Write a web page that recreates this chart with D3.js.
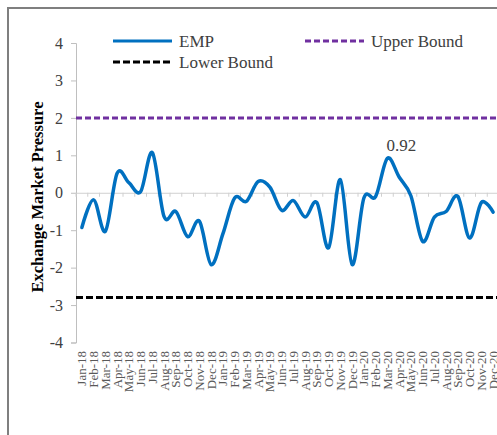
<!DOCTYPE html>
<html><head><meta charset="utf-8">
<script src="https://cdn.jsdelivr.net/npm/d3@7"></script>
<style>html,body{margin:0;padding:0;background:#fff;overflow:hidden}</style>
</head><body><svg id="c" width="497" height="435"></svg>
<script>
const months = ["Jan-18","Feb-18","Mar-18","Apr-18","May-18","Jun-18","Jul-18","Aug-18","Sep-18","Oct-18","Nov-18","Dec-18",
"Jan-19","Feb-19","Mar-19","Apr-19","May-19","Jun-19","Jul-19","Aug-19","Sep-19","Oct-19","Nov-19","Dec-19",
"Jan-20","Feb-20","Mar-20","Apr-20","May-20","Jun-20","Jul-20","Aug-20","Sep-20","Oct-20","Nov-20","Dec-20"];
const emp = [-0.93,-0.19,-1.03,0.52,0.27,0.03,1.07,-0.64,-0.5,-1.17,-0.76,-1.92,
-1.1,-0.14,-0.23,0.3,0.15,-0.47,-0.21,-0.65,-0.26,-1.47,0.35,-1.92,
-0.14,-0.1,0.92,0.42,-0.08,-1.3,-0.65,-0.5,-0.1,-1.21,-0.26,-0.52];
const upperBound = 2.0;
const lowerBound = -2.8;
const yTicks = [-4,-3,-2,-1,0,1,2,3,4];
const peakLabel = {month:"Mar-20", text:"0.92"};

const svg = d3.select("#c");
const serif = "'Liberation Serif','Times New Roman',serif";
// outer frame
svg.append("rect").attr("x",8).attr("y",8).attr("width",520).attr("height",440)
  .attr("fill","#fff").attr("stroke","#7f7f7f").attr("stroke-width",2);

const x = d3.scaleBand().domain(months).range([76, 76+36*11.75]);
const cx = m => x(m) + x.bandwidth()/2;
const y = d3.scaleLinear().domain([-4,4]).range([342.5,43]);

// y axis
const yAxis = d3.axisLeft(y).tickValues(yTicks).tickSize(5).tickPadding(8).tickFormat(d3.format("d"));
const ya = svg.append("g").attr("transform","translate(76,0)").call(yAxis);
ya.select(".domain").attr("stroke","#bfbfbf");
ya.selectAll(".tick line").attr("stroke","#bfbfbf");
ya.selectAll(".tick text").attr("font-family",serif).attr("font-size",16).attr("fill","#404040")
  .text(d => d < 0 ? "-" + Math.abs(d) : d);

// horizontal category axis at 0
const xAxis = d3.axisBottom(x).tickSize(0).tickFormat("");
const xa = svg.append("g").attr("transform",`translate(0,${y(0)})`).call(xAxis);
xa.select(".domain").attr("stroke","#d0d0d0").attr("stroke-width",1);
svg.append("g").selectAll("line").data(months).join("line")
  .attr("x1",d=>x(d)).attr("x2",d=>x(d)).attr("y1",y(0)).attr("y2",y(0)+4)
  .attr("stroke","#d0d0d0");

// category labels
svg.append("g").selectAll("text").data(months).join("text")
  .attr("transform",d=>`translate(${cx(d)},351) rotate(-90)`)
  .attr("text-anchor","end").attr("dy","0.35em")
  .attr("font-family",serif).attr("font-size",13).attr("fill","#595959")
  .text(d=>d);

// bounds
svg.append("line").attr("x1",76).attr("x2",520).attr("y1",y(upperBound)).attr("y2",y(upperBound))
  .attr("stroke","#7030a0").attr("stroke-width",3).attr("stroke-dasharray","6,3");
svg.append("line").attr("x1",76).attr("x2",520).attr("y1",y(lowerBound)).attr("y2",y(lowerBound))
  .attr("stroke","#000").attr("stroke-width",3).attr("stroke-dasharray","7,3");

// EMP line
const line = d3.line().x((d,i)=>cx(months[i])).y(d=>y(d)).curve(d3.curveCatmullRom.alpha(0));
svg.append("path").datum(emp).attr("d",line).attr("fill","none")
  .attr("stroke","#0070c0").attr("stroke-width",3.5).attr("stroke-linecap","round");

// peak label
const pi = months.indexOf(peakLabel.month);
svg.append("text").attr("x",cx(peakLabel.month)+14).attr("y",y(emp[pi])-7)
  .attr("text-anchor","middle").attr("font-family",serif).attr("font-size",17).attr("fill","#404040")
  .text(peakLabel.text);

// y title
svg.append("text").attr("transform","translate(37,197) rotate(-90)")
  .attr("text-anchor","middle").attr("dy","0.35em")
  .attr("font-family",serif).attr("font-weight","bold").attr("font-size",16.5).attr("fill","#000")
  .text("Exchange Market Pressure");

// legend
const legend = [
  {name:"EMP", color:"#0070c0", dash:null, x:113, y:41},
  {name:"Upper Bound", color:"#7030a0", dash:"6,3", x:305, y:41},
  {name:"Lower Bound", color:"#000", dash:"7,3", x:113, y:62}
];
const lg = svg.append("g").selectAll("g").data(legend).join("g")
  .attr("transform",d=>`translate(${d.x},${d.y})`);
lg.append("line").attr("x1",0).attr("x2",59).attr("y1",0).attr("y2",0)
  .attr("stroke",d=>d.color).attr("stroke-width",3).attr("stroke-dasharray",d=>d.dash);
lg.append("text").attr("x",66).attr("dy","0.35em").attr("font-family",serif).attr("font-size",17)
  .attr("fill","#404040").text(d=>d.name);
</script></body></html>
